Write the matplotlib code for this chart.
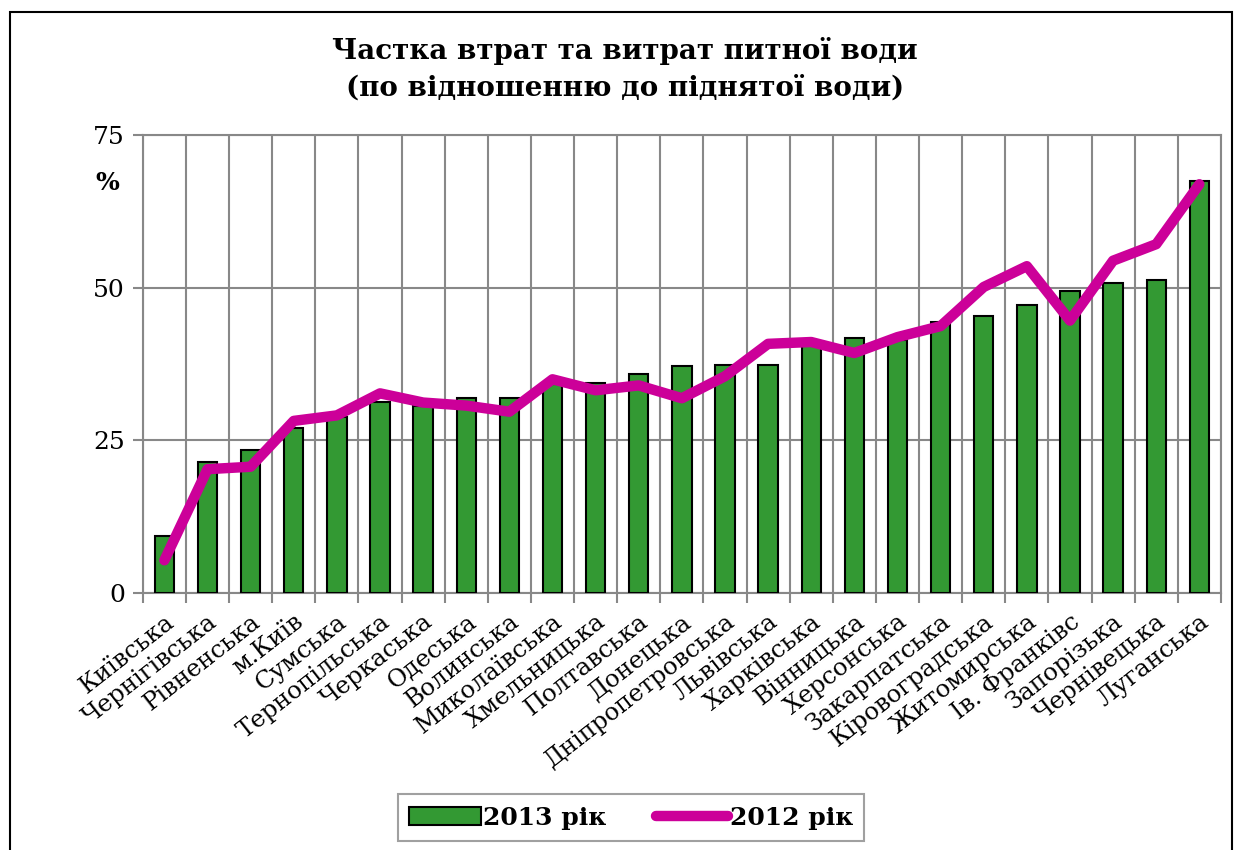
import numpy as np
import matplotlib.pyplot as plt
from matplotlib.patches import Rectangle
from matplotlib.ticker import FixedLocator

regions = ['Київська', 'Чернігівська', 'Рівненська', 'м.Київ', 'Сумська',
           'Тернопільська', 'Черкаська', 'Одеська', 'Волинська', 'Миколаївська',
           'Хмельницька', 'Полтавська', 'Донецька', 'Дніпропетровська', 'Львівська',
           'Харківська', 'Вінницька', 'Херсонська', 'Закарпатська', 'Кіровоградська',
           'Житомирська', 'Ів. Франківс', 'Запорізька', 'Чернівецька', 'Луганська']

# 2013 - bars
y2013 = [9.4, 21.5, 23.5, 27.1, 28.9, 31.3, 30.6, 31.9, 32.0, 34.3,
         34.4, 35.8, 37.1, 37.4, 37.4, 40.8, 41.7, 41.5, 44.3, 45.4,
         47.2, 49.5, 50.8, 51.2, 67.5]
# 2012 - line
y2012 = [5.4, 20.3, 20.7, 28.2, 29.1, 32.7, 31.2, 30.7, 29.7, 35.0,
         33.2, 34.0, 31.9, 35.5, 40.8, 41.1, 39.3, 41.9, 43.7, 50.1,
         53.5, 44.6, 54.4, 57.1, 66.9]

plt.rcParams['font.family'] = ['DejaVu Serif']

fig = plt.figure(figsize=(12.42, 8.5), dpi=100)
ax = fig.add_axes([0.115, 0.302, 0.868, 0.5395])

x = np.arange(len(regions))
bars = ax.bar(x, y2013, width=0.45, color='#339933', edgecolor='black',
              linewidth=1.5, label='2013 рік', zorder=3)
line, = ax.plot(x, y2012, color='#CC0099', linewidth=7.5, solid_capstyle='round',
                solid_joinstyle='round', label='2012 рік', zorder=4)

ax.set_xlim(-0.5, len(regions) - 0.5)
ax.set_ylim(0, 75)
ax.set_yticks([0, 25, 50, 75])
ax.set_xticks(x)
ax.set_xticklabels(regions, rotation=38, ha='right', rotation_mode='anchor',
                   fontsize=17.5)
ax.xaxis.set_minor_locator(FixedLocator(np.arange(-0.5, len(regions), 1)))
ax.tick_params(axis='x', which='major', length=0, pad=12)
ax.tick_params(axis='x', which='minor', length=7, width=1.5, color='#888888')
ax.tick_params(axis='y', length=7, width=1.5, color='#888888', labelsize=18, pad=6)
ax.grid(axis='x', which='minor', color='#888888', linewidth=1.5, zorder=0)
ax.grid(axis='y', which='major', color='#888888', linewidth=1.5, zorder=0)
for s in ax.spines.values():
    s.set_color('#888888')
    s.set_linewidth(1.5)

ax.text(-0.033, 0.895, '%', transform=ax.transAxes, fontsize=18,
        fontweight='bold', ha='center', va='center')

fig.text(0.503, 0.94, 'Частка втрат та витрат питної води', ha='center',
         va='center', fontsize=20, fontweight='bold')
fig.text(0.503, 0.896, '(по відношенню до піднятої води)', ha='center',
         va='center', fontsize=20, fontweight='bold')

leg = fig.legend([bars, line], ['2013 рік', '2012 рік'], loc='center',
                 bbox_to_anchor=(0.508, 0.038), ncol=2,
                 prop={'size': 18, 'weight': 'bold'}, frameon=True,
                 fancybox=False, edgecolor='#888888', handlelength=2.9,
                 columnspacing=2.0, handletextpad=0.05, borderpad=0.45)
leg.get_frame().set_linewidth(1.5)

fig.patches.append(Rectangle((10 / 1242, -0.01), 1222 / 1242, 0.996, fill=False,
                             edgecolor='black', linewidth=1.5,
                             transform=fig.transFigure))

fig.savefig('out.png', dpi=100)
